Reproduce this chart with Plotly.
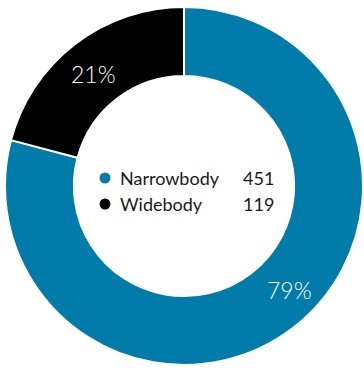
import plotly.graph_objects as go

# Fleet composition by aircraft body type
categories = ["Narrowbody", "Widebody"]
counts = [451, 119]
colors = ["#007BAA", "#000000"]

W, H = 364, 369
total = sum(counts)
percents = [f"{round(v / total * 100)}%" for v in counts]

fig = go.Figure(
    go.Pie(
        labels=categories,
        values=counts,
        textinfo="none",
        marker=dict(colors=colors, line=dict(color="white", width=2)),
        hole=0.615,
        sort=False,
        direction="clockwise",
        rotation=0,
        showlegend=False,
        hoverinfo="label+value+percent",
        domain=dict(x=[5 / W, 363 / W], y=[4 / H, 362 / H]),
    )
)

# Percentage labels on the ring
pct_pos = [(289, 290), (93, 74)]  # pixel centres (x, y from top)
for pct, (px, py) in zip(percents, pct_pos):
    fig.add_annotation(
        x=px / W, y=1 - py / H, xref="paper", yref="paper",
        text=pct, showarrow=False, xanchor="center", yanchor="middle",
        font=dict(family="Lato", size=23, color="white", weight=300),
    )

# Legend drawn inside the hole: dot, name, count
rows_y = [178, 204]  # pixel rows from top
dot_x = 105
name_x = 118
value_right = 276
for name, value, color, py in zip(categories, counts, colors, rows_y):
    fig.add_shape(
        type="circle", xref="paper", yref="paper",
        x0=(dot_x - 5.5) / W, x1=(dot_x + 5.5) / W,
        y0=1 - (py + 5.5) / H, y1=1 - (py - 5.5) / H,
        fillcolor=color, line=dict(width=0),
    )
    fig.add_annotation(
        x=name_x / W, y=1 - py / H, xref="paper", yref="paper",
        text=name, showarrow=False, xanchor="left", yanchor="middle",
        font=dict(family="Lato", size=18, color="#1a1a1a"),
    )
    fig.add_annotation(
        x=value_right / W, y=1 - py / H, xref="paper", yref="paper",
        text=str(value), showarrow=False, xanchor="right", yanchor="middle",
        font=dict(family="Lato", size=18, color="#1a1a1a"),
    )

fig.update_layout(
    width=W, height=H,
    margin=dict(l=0, r=0, t=0, b=0),
    paper_bgcolor="white",
    plot_bgcolor="white",
)

fig.write_html("out.html")
